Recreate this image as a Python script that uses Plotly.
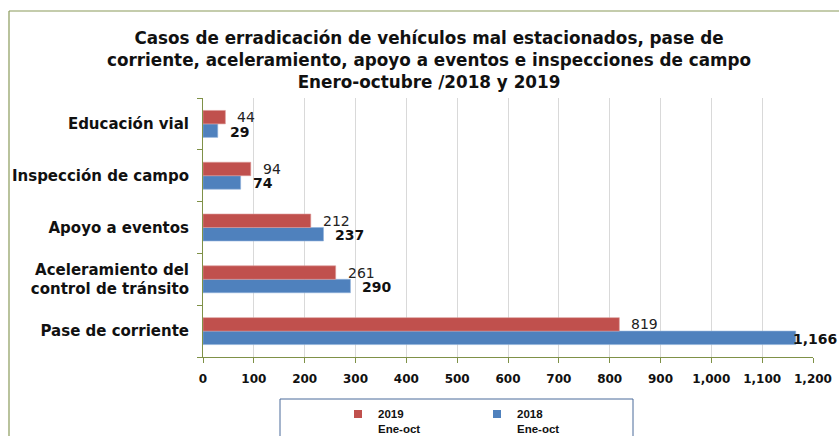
import plotly.graph_objects as go

# ---- data ----
categories = ["Pase de corriente", "Aceleramiento del<br>control de tránsito",
              "Apoyo a eventos", "Inspección de campo", "Educación vial"]
values_2019 = [819, 261, 212, 94, 44]
values_2018 = [1166, 290, 237, 74, 29]
series_2019 = "<b>2019<br>Ene-oct</b>"
series_2018 = "<b>2018<br>Ene-oct</b>"
title_lines = ["Casos de erradicación de vehículos mal estacionados, pase de",
               "corriente, aceleramiento, apoyo a eventos e inspecciones de campo",
               "Enero-octubre /2018 y 2019"]

W, H = 839, 436
ML, MR, MT, MB = 203, 26, 98, 79
PW, PH = W - ML - MR, H - MT - MB


def px(x):
    return (x - ML) / PW


def py(y):
    return (H - MB - y) / PH


RED = "#C0504D"
BLUE = "#4F81BD"
GREEN = "#7F9147"

fig = go.Figure()
fig.add_trace(go.Bar(y=categories, x=values_2018, orientation="h", name=series_2018,
                     showlegend=False,
                     marker=dict(color=BLUE, line=dict(color="#8fb0da", width=0.6))))
fig.add_trace(go.Bar(y=categories, x=values_2019, orientation="h", name=series_2019,
                     showlegend=False,
                     marker=dict(color=RED, line=dict(color="#dc9a98", width=0.6))))
# legend entries (small square keys, as in the original)
fig.add_trace(go.Scatter(x=[None], y=[None], mode="markers", name=series_2018,
                         marker=dict(symbol="square", size=8, color=BLUE)))
fig.add_trace(go.Scatter(x=[None], y=[None], mode="markers", name=series_2019,
                         marker=dict(symbol="square", size=8, color=RED)))

bargap = 0.48
off = (1 - bargap) / 4
annotations = []
for i, (v19, v18) in enumerate(zip(values_2019, values_2018)):
    annotations.append(dict(x=v19, y=i + off, xref="x", yref="y", text=f"{v19:,}",
                            showarrow=False, xanchor="left", yanchor="middle",
                            xshift=10 if v19 < 1100 else 0, yshift=0,
                            font=dict(family="DejaVu Sans", size=14, color="#222222")))
    annotations.append(dict(x=v18, y=i - off, xref="x", yref="y", text=f"<b>{v18:,}</b>",
                            showarrow=False, xanchor="left", yanchor="middle",
                            xshift=10 if v18 < 1100 else -5, yshift=-1,
                            font=dict(family="DejaVu Sans", size=14, color="#111111")))

shapes = [
    # outer chart border (left and top)
    dict(type="line", xref="paper", yref="paper", x0=px(9), x1=px(9), y0=py(11), y1=py(445),
         line=dict(color="#8a9a5b", width=1.2)),
    dict(type="line", xref="paper", yref="paper", x0=px(9), x1=px(850), y0=py(11), y1=py(11),
         line=dict(color="#8a9a5b", width=1.2)),
    # legend box
    dict(type="rect", xref="paper", yref="paper", x0=px(280), x1=px(633), y0=py(399), y1=py(450),
         line=dict(color="#4a6a9a", width=1), fillcolor="rgba(0,0,0,0)"),
]

fig.update_layout(
    width=W, height=H,
    margin=dict(l=ML, r=MR, t=MT, b=MB, autoexpand=False),
    paper_bgcolor="white", plot_bgcolor="white",
    barmode="group", bargap=bargap, bargroupgap=0,
    title=dict(text="<br>".join(title_lines), x=429 / W, xanchor="center",
               y=1 - 44 / H, yanchor="top", yref="container",
               font=dict(family="DejaVu Sans", size=16.8, color="#111111", weight="bold")),
    xaxis=dict(range=[0, 1200], dtick=100, tick0=0, tickformat=",d",
               showgrid=True, gridcolor="#d9d9d9", gridwidth=1,
               showline=True, linecolor=GREEN, linewidth=1,
               ticks="outside", ticklen=5, tickcolor=GREEN, ticklabelstandoff=6,
               tickfont=dict(family="DejaVu Sans", size=12, color="#111111", weight="bold"),
               zeroline=False, fixedrange=True, automargin=False),
    yaxis=dict(type="category", categoryarray=categories, categoryorder="array",
               showline=True, linecolor=GREEN, linewidth=1,
               ticks="outside", ticklen=5, tickcolor=GREEN, tickson="boundaries",
               ticklabelstandoff=10, showgrid=False,
               tickfont=dict(family="DejaVu Sans", size=15, color="#111111", weight="bold"),
               fixedrange=True, automargin=False),
    legend=dict(orientation="h", x=px(338), y=py(400), xanchor="left", yanchor="top",
                traceorder="reversed", entrywidth=94, entrywidthmode="pixels",
                bgcolor="rgba(0,0,0,0)", valign="top", itemwidth=30,
                font=dict(family="Liberation Sans", size=11.5, color="#111111")),
    annotations=annotations,
    shapes=shapes,
)

fig.write_html("out.html", config={"displayModeBar": False},
               post_script="document.body.style.margin='0';document.body.style.overflow='hidden';")
